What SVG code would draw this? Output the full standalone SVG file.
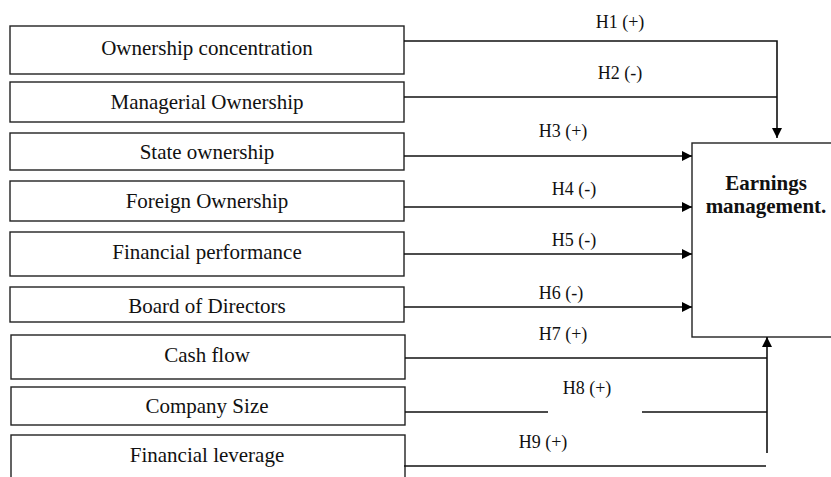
<svg xmlns="http://www.w3.org/2000/svg" width="831" height="477" viewBox="0 0 831 477">
<defs>
<style>
.box{fill:#fff;stroke:#222;stroke-width:1.4}
.t{font-family:"Liberation Serif","Times New Roman",serif;font-size:21px;fill:#111;text-anchor:middle}
.tb{font-family:"Liberation Serif","Times New Roman",serif;font-size:21px;font-weight:bold;fill:#111;text-anchor:middle}
.lbl{font-family:"Liberation Serif","Times New Roman",serif;font-size:18px;fill:#111;text-anchor:middle}
.ln{fill:none;stroke:#111;stroke-width:1.6}
</style>
<marker id="ah" viewBox="0 0 10 10" refX="10" refY="5" markerWidth="10" markerHeight="10" markerUnits="userSpaceOnUse" orient="auto">
<path d="M0,0 L10,5 L0,10 Z" fill="#000"/>
</marker>
</defs>
<rect width="831" height="477" fill="#fff"/>
<g id="n1"><rect class="box" x="10" y="26" width="394" height="48"/><text class="t" x="207" y="55">Ownership concentration</text></g>
<g id="n2"><rect class="box" x="10" y="82" width="394" height="40"/><text class="t" x="207" y="109">Managerial Ownership</text></g>
<g id="n3"><rect class="box" x="10" y="133" width="394" height="37"/><text class="t" x="207" y="159">State ownership</text></g>
<g id="n4"><rect class="box" x="10" y="181" width="394" height="40"/><text class="t" x="207" y="208">Foreign Ownership</text></g>
<g id="n5"><rect class="box" x="10" y="232" width="394" height="44"/><text class="t" x="207" y="259">Financial performance</text></g>
<g id="n6"><rect class="box" x="10" y="287" width="394" height="35"/><text class="t" x="207" y="313">Board of Directors</text></g>
<g id="n7"><rect class="box" x="11" y="335" width="394" height="44"/><text class="t" x="207" y="362">Cash flow</text></g>
<g id="n8"><rect class="box" x="11" y="387" width="394" height="38"/><text class="t" x="207" y="413">Company Size</text></g>
<g id="n9"><rect class="box" x="11" y="435" width="394" height="50"/><text class="t" x="207" y="462">Financial leverage</text></g>
<g id="em"><rect class="box" x="692" y="143" width="145" height="194"/><text class="tb" x="766" y="190">Earnings</text><text class="tb" x="766" y="213">management.</text></g>
<g id="connectors">
<path class="ln" d="M404,41 H777 V138" marker-end="url(#ah)"/>
<path class="ln" d="M404,97 H777"/>
<path class="ln" d="M404,156 H692" marker-end="url(#ah)"/>
<path class="ln" d="M404,207 H692" marker-end="url(#ah)"/>
<path class="ln" d="M404,254 H692" marker-end="url(#ah)"/>
<path class="ln" d="M404,307 H692" marker-end="url(#ah)"/>
<path class="ln" d="M405,358 H767"/>
<path class="ln" d="M405,412 H548 M642,412 H767"/>
<path class="ln" d="M404,466 H766"/>
<path class="ln" d="M767,453 V337" marker-end="url(#ah)"/>
<text class="lbl" x="620" y="28">H1 (+)</text>
<text class="lbl" x="620" y="79">H2 (-)</text>
<text class="lbl" x="563" y="137">H3 (+)</text>
<text class="lbl" x="574" y="195">H4 (-)</text>
<text class="lbl" x="574" y="246">H5 (-)</text>
<text class="lbl" x="561" y="299">H6 (-)</text>
<text class="lbl" x="563" y="340">H7 (+)</text>
<text class="lbl" x="587" y="394">H8 (+)</text>
<text class="lbl" x="543" y="448">H9 (+)</text>
</g>
</svg>
